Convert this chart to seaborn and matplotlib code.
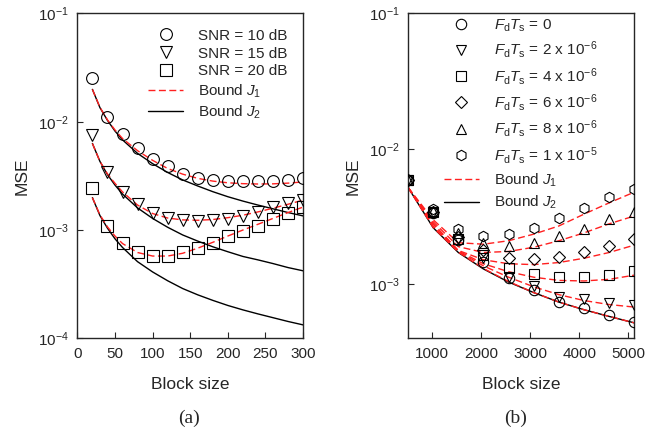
import matplotlib
matplotlib.use("Agg")
import matplotlib.pyplot as plt
import numpy as np
import seaborn as sns

# ---- panel (a) : MSE vs block size for three SNR values
block_a = [20, 40, 60, 80, 100, 120, 140, 160, 180, 200, 220, 240, 260, 280, 300]
mse_snr10 = [0.0251, 0.0111, 0.00769, 0.00568, 0.00449, 0.00387, 0.00331, 0.00302,
             0.00292, 0.00285, 0.00283, 0.00281, 0.00283, 0.0029, 0.00304]
mse_snr15 = [0.00753, 0.0034, 0.00223, 0.00173, 0.00143, 0.00128, 0.00123, 0.00122,
             0.00124, 0.00127, 0.00135, 0.00148, 0.00162, 0.00176, 0.00189]
mse_snr20 = [0.00243, 0.0011, 0.00076, 0.000627, 0.000575, 0.000579, 0.000622, 0.000678,
             0.000764, 0.000875, 0.000986, 0.0011, 0.00127, 0.00143, 0.00162]

bound_x_a = [20, 30, 40, 50, 60, 80, 100, 120, 140, 160, 180, 200, 220, 240, 260, 280, 300]
j1_snr10 = [0.0199, 0.0136, 0.0104, 0.0084, 0.0070, 0.0054, 0.0044, 0.0037, 0.00328, 0.0030,
            0.00283, 0.00273, 0.00268, 0.00266, 0.00267, 0.00271, 0.00278]
j1_snr15 = [0.0063, 0.0043, 0.0033, 0.0027, 0.00225, 0.0017, 0.00142, 0.00129, 0.00124, 0.00123,
            0.00125, 0.0013, 0.00137, 0.00147, 0.00159, 0.00173, 0.00189]
j1_snr20 = [0.00199, 0.00138, 0.00107, 0.00088, 0.00075, 0.00062, 0.000575, 0.000575, 0.00061,
            0.00068, 0.00077, 0.00088, 0.0010, 0.00113, 0.00128, 0.00145, 0.00163]
j2_snr10 = [0.0199, 0.0135, 0.0103, 0.0082, 0.0068, 0.0051, 0.0041, 0.0034, 0.0029, 0.00255,
            0.00226, 0.00203, 0.00185, 0.0017, 0.00157, 0.00145, 0.00135]
j2_snr15 = [0.0063, 0.0043, 0.00325, 0.0026, 0.00215, 0.0016, 0.00128, 0.00106, 0.0009, 0.00079,
            0.0007, 0.00063, 0.00057, 0.00053, 0.00049, 0.00045, 0.00042]
j2_snr20 = [0.00199, 0.00136, 0.00104, 0.00083, 0.00069, 0.00051, 0.00041, 0.00034, 0.000288,
            0.000252, 0.000224, 0.000201, 0.000183, 0.000168, 0.000155, 0.000143, 0.000133]

# ---- panel (b) : MSE vs block size for several Doppler values
block_b = [512, 1024, 1536, 2048, 2560, 3072, 3584, 4096, 4608, 5120]
mse_fd0 = [0.00585, 0.00334, 0.00212, 0.00147, 0.00112, 0.00091, 0.000745, 0.000665, 0.000594, 0.00053]
mse_fd2 = [0.00585, 0.00338, 0.00215, 0.00156, 0.00114, 0.00097, 0.00081, 0.000775, 0.000733, 0.000703]
mse_fd4 = [0.00585, 0.0034, 0.00218, 0.00164, 0.00133, 0.00119, 0.00114, 0.00114, 0.00117, 0.00125]
mse_fd6 = [0.00585, 0.00344, 0.00222, 0.00179, 0.00157, 0.00153, 0.0016, 0.00172, 0.00192, 0.00215]
mse_fd8 = [0.00585, 0.0035, 0.00238, 0.00201, 0.00193, 0.00203, 0.00227, 0.00258, 0.00302, 0.00345]
mse_fd10 = [0.00585, 0.0036, 0.00255, 0.00228, 0.00234, 0.00262, 0.00307, 0.00364, 0.00439, 0.00503]

j1_fd0 = [0.0052, 0.00263, 0.00173, 0.00131, 0.00105, 0.00087, 0.00074, 0.00065, 0.00058, 0.00052]
j1_fd2 = [0.0052, 0.0027, 0.00175, 0.00137, 0.00113, 0.00096, 0.00084, 0.00076, 0.00071, 0.00068]
j1_fd4 = [0.0052, 0.0028, 0.00177, 0.00142, 0.00124, 0.00113, 0.00107, 0.00106, 0.00109, 0.00117]
j1_fd6 = [0.0052, 0.0028, 0.00178, 0.00152, 0.00142, 0.0014, 0.00145, 0.00156, 0.00172, 0.00195]
j1_fd8 = [0.0052, 0.0029, 0.0019, 0.00172, 0.00175, 0.00188, 0.0021, 0.0024, 0.0028, 0.0032]
j1_fd10 = [0.0052, 0.003, 0.00203, 0.00198, 0.0021, 0.00235, 0.0027, 0.0033, 0.0040, 0.0048]
j2_b = [0.0052, 0.00262, 0.00172, 0.0013, 0.00104, 0.00087, 0.00074, 0.00065, 0.00058, 0.00052]

snr_labels = ["SNR = 10 dB", "SNR = 15 dB", "SNR = 20 dB"]
fdts = r"$\mathit{F}_\mathrm{d}\mathit{T}_\mathrm{s}$"
fd_labels = [fdts + " = 0",
             fdts + r" = 2 x 10$^{-6}$",
             fdts + r" = 4 x 10$^{-6}$",
             fdts + r" = 6 x 10$^{-6}$",
             fdts + r" = 8 x 10$^{-6}$",
             fdts + r" = 1 x 10$^{-5}$"]
bound_labels = [r"Bound $\mathit{J}_1$", r"Bound $\mathit{J}_2$"]

sns.set_style("ticks")
plt.rcParams['font.family'] = ['Liberation Sans', 'DejaVu Sans']
plt.rcParams['mathtext.fontset'] = 'custom'
plt.rcParams['mathtext.rm'] = 'Liberation Sans'
plt.rcParams['mathtext.it'] = 'Liberation Sans:italic'
plt.rcParams['mathtext.default'] = 'regular'

fig = plt.figure(figsize=(6.64, 4.34), dpi=100)
ax = fig.add_axes([0.1165, 0.2205, 0.3400, 0.7485])
bx = fig.add_axes([0.6145, 0.2205, 0.3408, 0.7485])

mk = dict(ls="", mfc="none", mec="k", mew=0.8, ms=8.5, zorder=3)
red = dict(color="#ff2020", ls=(0, (5, 2.5)), lw=1.0, zorder=2)
blk = dict(color="k", lw=1.0, zorder=1)

# panel (a)
for vals, m, lab in zip([mse_snr10, mse_snr15, mse_snr20], ["o", "v", "s"], snr_labels):
    sns.lineplot(x=block_a, y=vals, marker=m, ax=ax, label=lab, **mk)
for i, vals in enumerate([j1_snr10, j1_snr15, j1_snr20]):
    sns.lineplot(x=bound_x_a, y=vals, ax=ax, label=bound_labels[0] if i == 0 else None, **red)
for i, vals in enumerate([j2_snr10, j2_snr15, j2_snr20]):
    sns.lineplot(x=bound_x_a, y=vals, ax=ax, label=bound_labels[1] if i == 0 else None, **blk)

# panel (b)
mse_b = [mse_fd0, mse_fd2, mse_fd4, mse_fd6, mse_fd8, mse_fd10]
for vals, m, lab in zip(mse_b, ["o", "v", "s", "D", "^", "h"], fd_labels):
    kw = dict(mk)
    kw["ms"] = 7.5 if m != "D" else 6.5
    sns.lineplot(x=block_b, y=vals, marker=m, ax=bx, label=lab, **kw)
for i, vals in enumerate([j1_fd0, j1_fd2, j1_fd4, j1_fd6, j1_fd8, j1_fd10]):
    sns.lineplot(x=block_b, y=vals, ax=bx, label=bound_labels[0] if i == 0 else None, **red)
sns.lineplot(x=block_b, y=j2_b, ax=bx, label=bound_labels[1], **blk)

for a in (ax, bx):
    a.set_yscale("log")
    a.minorticks_off()
    a.tick_params(direction="in", length=4, width=0.8, labelsize=11, pad=6, top=False, right=False)
    for s in a.spines.values():
        s.set_linewidth(1.0)
    a.set_xlabel("Block size", fontsize=12.5, labelpad=12)
    a.set_ylabel("MSE", fontsize=12.5, labelpad=6)

ax.set_xlim(0, 300)
ax.set_ylim(1e-4, 1e-1)
ax.set_xticks([0, 50, 100, 150, 200, 250, 300])
ax.set_yticks([1e-4, 1e-3, 1e-2, 1e-1])
ax.legend(loc="upper right", bbox_to_anchor=(1.0, 1.0), frameon=False, fontsize=11,
          handlelength=2.3, handletextpad=1.0, labelspacing=0.25, borderaxespad=0.6)

bx.set_xlim(512, 5120)
bx.set_ylim(4e-4, 1e-1)
bx.set_xticks([1000, 2000, 3000, 4000, 5000])
bx.set_yticks([1e-3, 1e-2, 1e-1])
bx.legend(loc="upper left", bbox_to_anchor=(0.11, 1.02), frameon=False, fontsize=11,
          handlelength=2.3, handletextpad=1.0, labelspacing=0.35, borderaxespad=0.3)

fig.text(0.285, 0.025, "(a)", family="Liberation Serif", fontsize=14, ha="center")
fig.text(0.777, 0.025, "(b)", family="Liberation Serif", fontsize=14, ha="center")

fig.savefig("out.png", dpi=100)
